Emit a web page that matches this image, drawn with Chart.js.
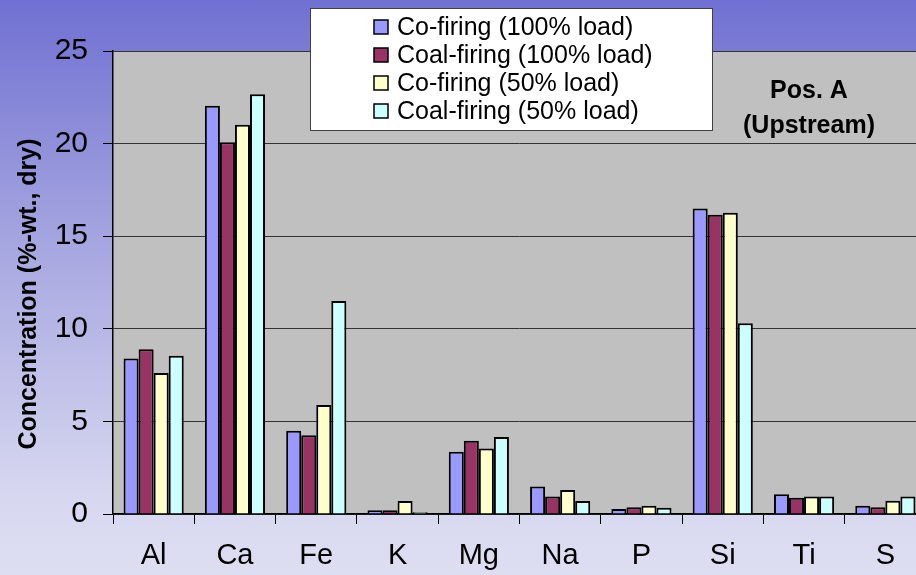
<!DOCTYPE html>
<html>
<head>
<meta charset="utf-8">
<script src="https://cdn.jsdelivr.net/npm/chart.js@4/dist/chart.umd.min.js"></script>
<style>
  html, body { margin: 0; padding: 0; overflow: hidden; }
  body {
    width: 916px; height: 575px;
    background: linear-gradient(to bottom, #7070d2 0%, #a9a9e1 45%, #d6d6f0 85%, #dedef2 100%);
  }
  canvas { display: block; }
</style>
</head>
<body>
<canvas id="myChart" width="930" height="575"></canvas>
<script>
// Element concentrations in deposits, Pos. A (upstream)
const elements = ['Al', 'Ca', 'Fe', 'K', 'Mg', 'Na', 'P', 'Si', 'Ti', 'S'];
const coFiring100 = [8.39, 22.05, 4.50, 0.20, 3.36, 1.48, 0.27, 16.50, 1.06, 0.45];
const coalFiring100 = [8.89, 20.07, 4.25, 0.20, 3.96, 0.95, 0.36, 16.16, 0.88, 0.36];
const coFiring50 = [7.61, 21.02, 5.89, 0.70, 3.53, 1.30, 0.45, 16.27, 0.95, 0.72];
const coalFiring50 = [8.55, 22.66, 11.50, 0.10, 4.16, 0.70, 0.34, 10.30, 0.95, 0.95];
const seriesNames = ['Co-firing (100% load)', 'Coal-firing (100% load)', 'Co-firing (50% load)', 'Coal-firing (50% load)'];
const yTicks = [0, 5, 10, 15, 20, 25];

const seriesColors = ['#9999ff', '#993366', '#ffffcc', '#ccffff'];
const FONT = '"Liberation Sans", Arial, sans-serif';

// grey plot area behind the bars
const plotBackground = {
    id: 'plotBackground',
    beforeDraw(chart) {
        const { ctx, chartArea: a } = chart;
        ctx.save();
        ctx.fillStyle = '#c0c0c0';
        ctx.fillRect(a.left, a.top, a.right - a.left, a.bottom - a.top);
        ctx.strokeStyle = '#808080';
        ctx.lineWidth = 1;
        ctx.beginPath();
        ctx.moveTo(a.left, a.top + 0.5);
        ctx.lineTo(a.right, a.top + 0.5);
        ctx.stroke();
        ctx.restore();
    }
};

// boxed legend, axis title and position label
const overlay = {
    id: 'overlay',
    afterDraw(chart) {
        const ctx = chart.ctx;
        ctx.save();
        ctx.fillStyle = '#ffffff';
        ctx.fillRect(310, 8, 402, 122);
        ctx.strokeStyle = '#404040';
        ctx.lineWidth = 1;
        ctx.strokeRect(310.5, 8.5, 402, 122);

        ctx.font = '25px ' + FONT;
        ctx.textBaseline = 'middle';
        chart.data.datasets.forEach((ds, i) => {
            const y = 27 + i * 28;
            ctx.fillStyle = ds.backgroundColor;
            ctx.fillRect(374, y - 7, 14, 14);
            ctx.strokeStyle = '#000';
            ctx.lineWidth = 1.5;
            ctx.strokeRect(374, y - 7, 14, 14);
            ctx.fillStyle = '#000';
            ctx.fillText(ds.label, 397, y + 1);
        });

        ctx.font = 'bold 25px ' + FONT;
        ctx.textAlign = 'center';
        ctx.fillText('Pos. A', 809, 91);
        ctx.fillText('(Upstream)', 809, 126);

        // y axis title
        ctx.translate(29, 294);
        ctx.rotate(-Math.PI / 2);
        ctx.fillText('Concentration (%-wt., dry)', 0, 0);
        ctx.restore();
    }
};

const ctx = document.getElementById('myChart').getContext('2d');
const chart = new Chart(ctx, {
    type: 'bar',
    data: {
        labels: elements,
        datasets: [coFiring100, coalFiring100, coFiring50, coalFiring50].map((d, i) => ({
            label: seriesNames[i],
            data: d,
            backgroundColor: seriesColors[i],
            borderColor: '#000',
            borderWidth: 2,
            categoryPercentage: 0.74,
            barPercentage: 1
        }))
    },
    options: {
        responsive: false,
        animation: false,
        layout: { padding: { top: 51, right: 4, left: 0, bottom: 0 } },
        plugins: {
            legend: { display: false },
            tooltip: { enabled: false }
        },
        scales: {
            x: {
                afterFit(scale) { scale.height = 61; },
                grid: {
                    offset: true,
                    drawOnChartArea: false,
                    drawTicks: true,
                    tickLength: 10,
                    color: '#000'
                },
                border: { color: '#000', width: 1.5 },
                ticks: {
                    color: '#000',
                    padding: 15,
                    maxRotation: 0,
                    font: { family: FONT, size: 29 }
                }
            },
            y: {
                min: 0,
                max: 25,
                afterFit(scale) { scale.width = 113; },
                afterBuildTicks(scale) { scale.ticks = yTicks.map(v => ({ value: v })); },
                grid: {
                    color: '#333',
                    lineWidth: 1,
                    tickLength: 10,
                    tickColor: '#000'
                },
                border: { color: '#000', width: 1.5 },
                ticks: {
                    color: '#000',
                    padding: 15,
                    font: { family: FONT, size: 30 }
                }
            }
        }
    },
    plugins: [plotBackground, overlay]
});
</script>
</body>
</html>
